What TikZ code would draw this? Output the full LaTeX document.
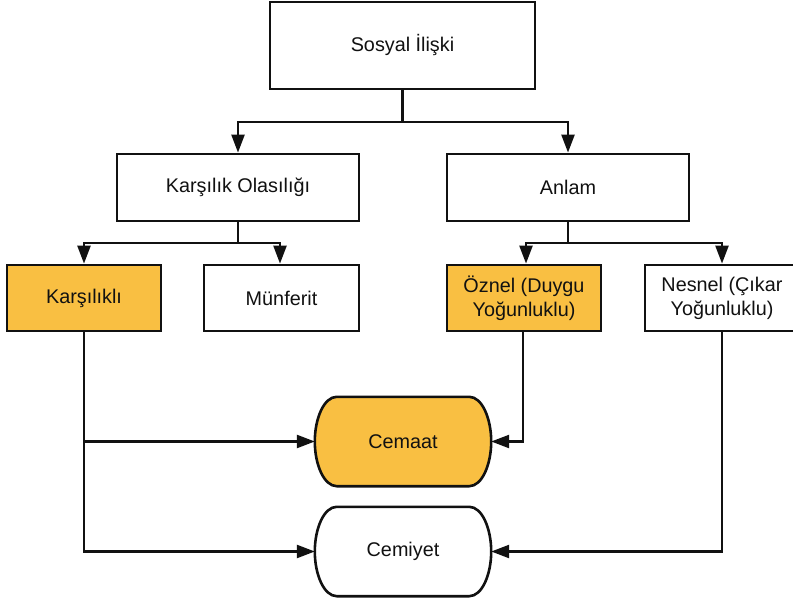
\documentclass[tikz,border=0pt]{standalone}
\usepackage{fontspec}
\setmainfont{Liberation Sans}
\usetikzlibrary{arrows.meta,backgrounds}
\definecolor{orng}{HTML}{F9BF42}
\definecolor{ink}{HTML}{111111}
\tikzset{
  box/.style={draw=ink, line width=2.8pt, fill=white, rectangle, inner sep=0pt, align=center,
    font=\fontsize{19.8}{24}\selectfont, text=ink},
  hot/.style={fill=orng},
  term/.style={rectangle, inner sep=0pt, minimum width=176pt, minimum height=89pt,
    font=\fontsize{19.8}{24}\selectfont, text=ink},
  termline/.style={draw=ink, line width=2.6pt},
  conn/.style={draw=ink, line width=2.4pt},
  arr/.style={conn, -{Triangle[width=13pt,length=18pt]}},
}
\newcommand\termpath[1]{%
 ([xshift=22pt]#1.north west) -- ([xshift=-22pt]#1.north east)
 .. controls ([xshift=-9pt]#1.north east) and ([yshift=-22pt]#1.north east) .. (#1.east)
 .. controls ([yshift=22pt]#1.south east) and ([xshift=-9pt]#1.south east) .. ([xshift=-22pt]#1.south east)
 -- ([xshift=22pt]#1.south west)
 .. controls ([xshift=9pt]#1.south west) and ([yshift=22pt]#1.south west) .. (#1.west)
 .. controls ([yshift=-22pt]#1.north west) and ([xshift=9pt]#1.north west) .. cycle}
\begin{document}
\begin{tikzpicture}[x=1pt,y=-1pt]
\useasboundingbox (0,0) rectangle (793,604);
\node[box, minimum width=265pt, minimum height=87pt] (root) at (402.5,45.5) {Sosyal İlişki};
\node[box, minimum width=242pt, minimum height=67pt] (ko) at (238,187.5) {Karşılık Olasılığı};
\node[box, minimum width=242pt, minimum height=67pt] (an) at (568,187.5) {Anlam};
\node[box, hot, minimum width=154pt, minimum height=66pt] (ka) at (84,298) {Karşılıklı};
\node[box, minimum width=155pt, minimum height=66pt] (mu) at (281.5,298) {Münferit};
\node[box, hot, minimum width=154pt, minimum height=66pt] (oz) at (524,298) {Öznel (Duygu\\Yoğunluklu)};
\node[box, minimum width=154pt, minimum height=66pt] (ne) at (722,298) {Nesnel (Çıkar\\Yoğunluklu)};
\node[term] (ce) at (403,441.5) {Cemaat};
\node[term] (cy) at (403,551.5) {Cemiyet};
\begin{scope}[on background layer]
\fill[white] (0,0) rectangle (793,604);
\filldraw[termline, fill=orng] \termpath{ce};
\filldraw[termline, fill=white] \termpath{cy};
\end{scope}

\coordinate (j1) at (402.5,122);
\coordinate (j2) at (238,243);
\coordinate (j3) at (568,243);
\draw[conn] (root.south) -- (j1);
\draw[arr] (j1) -| (ko.north);
\draw[arr] (j1) -| (an.north);
\draw[conn] (ko.south) -- (j2);
\draw[arr] (j2) -| (ka.north);
\draw[arr] (j2) -| ([xshift=-1.5pt]mu.north);
\draw[conn] (an.south) -- (j3);
\draw[arr] (j3) -| ([xshift=2pt]oz.north);
\draw[arr] (j3) -| (ne.north);

\coordinate (b1) at (84,441.5);
\draw[arr] (ka.south) |- (cy.west);
\draw[arr] (b1) -- (ce.west);
\draw[arr] ([xshift=-1pt]oz.south) |- (ce.east);
\draw[arr] (ne.south) |- (cy.east);
\end{tikzpicture}
\end{document}
